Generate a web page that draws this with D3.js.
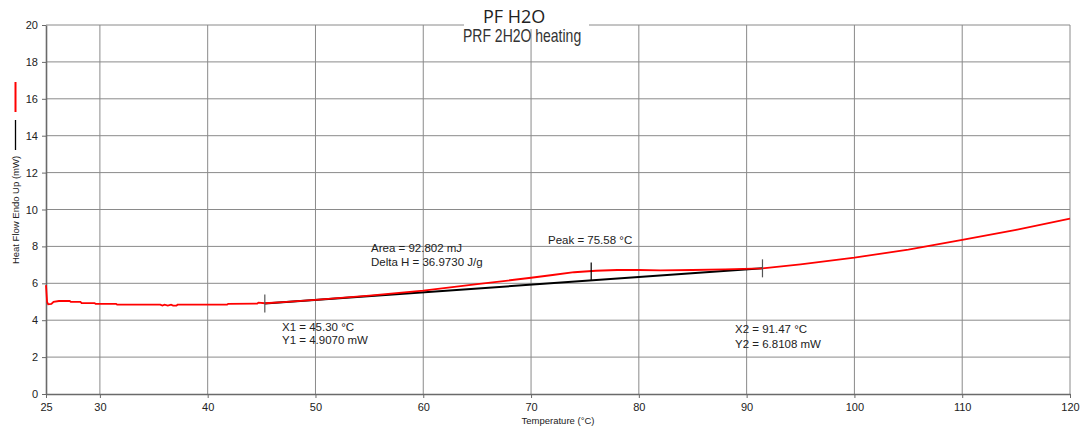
<!DOCTYPE html>
<html>
<head>
<meta charset="utf-8">
<script src="https://cdn.jsdelivr.net/npm/d3@7"></script>
<style>
  body { margin: 0; background: #fff; }
  svg { display: block; font-family: "Liberation Sans", Arial, sans-serif; }
</style>
</head>
<body>
<div id="chart"></div>
<script>
// sample heat flow curve: [temperature °C, mW]
const sampleTemp = [25.0, 25.1, 25.2, 25.5, 25.7, 26.2, 27.2, 27.3, 28.2, 28.3, 29.5, 29.6, 31.5, 31.6,
  35.6, 35.8, 36.0, 36.3, 36.6, 36.8, 37.1, 37.2, 41.8, 41.9, 44.6, 44.7, 45.3, 47, 50, 55, 60, 65, 70,
  72, 74, 76, 78, 80, 82, 85, 88, 91.47, 95, 100, 105, 110, 115, 120];
const sampleFlow = [5.9, 5.0, 4.86, 4.88, 5.0, 5.04, 5.04, 4.99, 4.99, 4.93, 4.93, 4.89, 4.89, 4.84,
  4.84, 4.79, 4.84, 4.79, 4.84, 4.79, 4.79, 4.84, 4.84, 4.89, 4.9, 4.95, 4.92, 4.98, 5.1, 5.33, 5.6, 5.95, 6.3,
  6.45, 6.6, 6.68, 6.72, 6.72, 6.7, 6.72, 6.76, 6.81, 7.03, 7.39, 7.83, 8.35, 8.9, 9.5];

// integration baseline X1/Y1 -> X2/Y2
const baseTemp = [45.30, 91.47];
const baseFlow = [4.9070, 6.8108];
const peakTemp = 75.58;

const xTicks = [25, 30, 40, 50, 60, 70, 80, 90, 100, 110, 120];
const yTicks = [0, 2, 4, 6, 8, 10, 12, 14, 16, 18, 20];

const W = 1082, H = 430;
const margin = { top: 25, right: 12, bottom: 36, left: 46 };

const svg = d3.select("#chart").append("svg")
    .attr("width", W)
    .attr("height", H);

const x = d3.scaleLinear().domain([25, 120]).range([margin.left, W - margin.right]);
const y = d3.scaleLinear().domain([0, 20]).range([H - margin.bottom, margin.top]);

// grid
svg.append("g")
    .selectAll("line.v")
    .data(xTicks.slice(1))
    .join("line")
    .attr("x1", d => x(d)).attr("x2", d => x(d))
    .attr("y1", y(0)).attr("y2", y(20))
    .attr("stroke", "#8a8a8a");

svg.append("g")
    .selectAll("line.h")
    .data(yTicks.slice(1))
    .join("line")
    .attr("x1", x(25)).attr("x2", x(120))
    .attr("y1", d => y(d)).attr("y2", d => y(d))
    .attr("stroke", "#8a8a8a");

// axes
const xAxis = svg.append("g")
    .attr("transform", `translate(0,${y(0)})`)
    .call(d3.axisBottom(x).tickValues(xTicks).tickSize(4).tickSizeOuter(0).tickFormat(d3.format("d")));
const yAxis = svg.append("g")
    .attr("transform", `translate(${x(25)},0)`)
    .call(d3.axisLeft(y).tickValues(yTicks).tickSize(4).tickSizeOuter(0));

[xAxis, yAxis].forEach(g => {
    g.select(".domain").attr("stroke", "#6a6a6a").attr("stroke-width", 1.6);
    g.selectAll(".tick line").attr("stroke", "#6a6a6a");
    g.selectAll(".tick text").attr("fill", "#222").style("font-size", "11px")
        .style("font-family", "'Liberation Sans', Arial, sans-serif");
});
xAxis.selectAll(".tick text").attr("dy", "0.95em");
yAxis.selectAll(".tick text").attr("x", -8);

// axis titles
svg.append("text")
    .attr("x", (x(25) + x(120)) / 2)
    .attr("y", 424)
    .attr("text-anchor", "middle")
    .attr("fill", "#222")
    .style("font-size", "9.5px")
    .text("Temperature (°C)");

svg.append("text")
    .attr("transform", "translate(19,210) rotate(-90)")
    .attr("text-anchor", "middle")
    .attr("fill", "#222")
    .style("font-size", "9.5px")
    .text("Heat Flow Endo Up (mW)");

// series legend marks beside the y label
svg.append("line").attr("x1", 15.5).attr("x2", 15.5).attr("y1", 82).attr("y2", 112)
    .attr("stroke", "#ff0000").attr("stroke-width", 2);
svg.append("line").attr("x1", 15.5).attr("x2", 15.5).attr("y1", 120).attr("y2", 150)
    .attr("stroke", "#000").attr("stroke-width", 1.3);

// curves
const sample = sampleTemp.map((t, i) => [t, sampleFlow[i]]);
const base = baseTemp.map((t, i) => [t, baseFlow[i]]);
const line = d3.line().x(d => x(d[0])).y(d => y(d[1]));

svg.append("path")
    .datum(base)
    .attr("d", line)
    .attr("fill", "none")
    .attr("stroke", "#000")
    .attr("stroke-width", 2);

svg.append("path")
    .datum(sample)
    .attr("d", line)
    .attr("fill", "none")
    .attr("stroke", "#ff0000")
    .attr("stroke-width", 1.8);

// markers at X1, peak, X2
const slope = (baseFlow[1] - baseFlow[0]) / (baseTemp[1] - baseTemp[0]);
const baseAt = t => baseFlow[0] + (t - baseTemp[0]) * slope;
const marks = [
    { t: baseTemp[0], v: baseFlow[0], up: 9, down: 9 },
    { t: peakTemp, v: baseAt(peakTemp), up: 18, down: 0 },
    { t: baseTemp[1], v: baseFlow[1], up: 9, down: 9 }
];
svg.append("g")
    .selectAll("line")
    .data(marks)
    .join("line")
    .attr("x1", d => x(d.t)).attr("x2", d => x(d.t))
    .attr("y1", d => y(d.v) - d.up).attr("y2", d => y(d.v) + d.down)
    .attr("stroke", d => d.down ? "#555" : "#000")
    .attr("stroke-width", 1.2);

// annotation texts
const notes = [
    { x: 282, y: 331, t: "X1 = 45.30 °C" },
    { x: 282, y: 344, t: "Y1 = 4.9070 mW" },
    { x: 371, y: 252, t: "Area = 92.802 mJ" },
    { x: 371, y: 266, t: "Delta H = 36.9730 J/g" },
    { x: 548, y: 244, t: "Peak = 75.58 °C" },
    { x: 735, y: 333, t: "X2 = 91.47 °C" },
    { x: 735, y: 348, t: "Y2 = 6.8108 mW" }
];
svg.append("g")
    .selectAll("text")
    .data(notes)
    .join("text")
    .attr("x", d => d.x)
    .attr("y", d => d.y)
    .attr("fill", "#222")
    .style("font-size", "11.5px")
    .text(d => d.t);

// subtitle (its top slightly hidden under the title box)
svg.append("text")
    .attr("transform", "translate(463,42) scale(1,1.3)")
    .attr("fill", "#333")
    .style("font-size", "14px")
    .text("PRF 2H2O heating");

svg.append("rect")
    .attr("x", 464).attr("y", 0)
    .attr("width", 125).attr("height", 29)
    .attr("fill", "#fff");

svg.append("text")
    .attr("x", 483)
    .attr("y", 22.5)
    .attr("fill", "#222")
    .style("font-family", "'Open Sans', sans-serif")
    .style("font-size", "18px")
    .text("PF H2O");
</script>
</body>
</html>
